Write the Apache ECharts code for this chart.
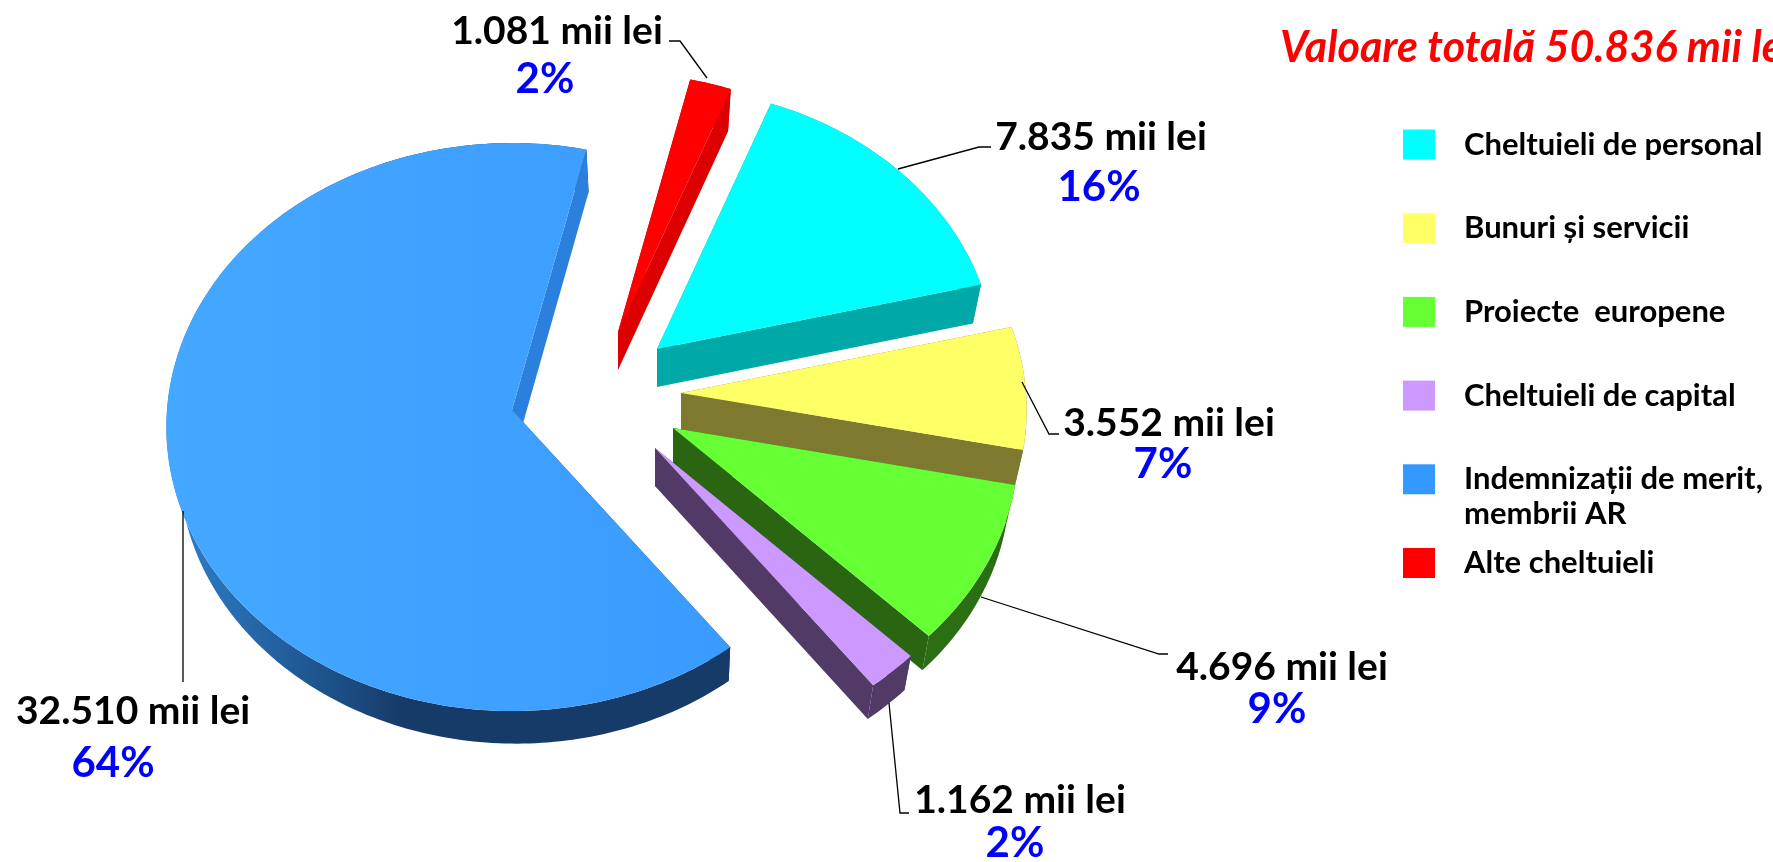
<!DOCTYPE html>
<html>
<head>
<meta charset="utf-8">
<style>
  html, body { margin: 0; padding: 0; background: #fff; overflow: hidden; }
  #chart { width: 1773px; height: 862px; }
</style>
</head>
<body>
<div id="chart"></div>
<script src="https://cdn.jsdelivr.net/npm/echarts@6/dist/echarts.min.js"></script>
<script>
// clockwise from the top, later slices paint over earlier ones
var categories = ['Alte cheltuieli', 'Cheltuieli de personal', 'Bunuri și servicii', 'Proiecte  europene', 'Cheltuieli de capital', 'Indemnizații de merit, membrii AR'];
var values = [1081, 7835, 3552, 4696, 1162, 32510];
var percents = [2, 16, 7, 9, 2, 64];
var totalLabel = 'Valoare totală 50.836 mii lei';
var legendOrder = ['Cheltuieli de personal', 'Bunuri și servicii', 'Proiecte  europene', 'Cheltuieli de capital', 'Indemnizații de merit, membrii AR', 'Alte cheltuieli'];

var topColors = ['#ff0000', '#00ffff', '#ffff66', '#66ff33', '#cc99ff', '#3d9fff'];
var sideColors = ['#dc0000', '#00a8a8', '#7d7a30', '#2a6612', '#523a66', '#2a80dc'];
var rimColors = ['#dc0000', '#00a8a8', '#7d7a30', '#2c6e14', '#523a66', null];

// projection of the tilted disc
var CX = 512, CY = 410, RX = 345, RY = 283, PERSP = 0.06, DEPTH = 38;
var START_ANGLE = 13.2;
var explode = [[106, -78], [145, -61], [169, -17], [161, 18], [143, 38], [0, 0]];
var sliceScale = [0.97, 0.98, 1, 1, 1, 1];
var underShift = [0, 0, 0, 0, 0, 4];

// connector lines and label centres for each slice
var leaders = [
  [[669, 41], [680, 41], [707, 78]],
  [[898, 169], [979, 147], [991, 147]],
  [[1022, 382], [1049, 434], [1059, 434]],
  [[981, 597], [1159, 654], [1168, 654]],
  [[889, 703], [900, 813], [909, 813]],
  [[183, 511], [183, 682]]
];
var valuePos = [[557, 31], [1101, 137], [1169, 423], [1282, 667], [1020, 800], [133, 711]];
var pctPos = [[545, 79], [1099, 187], [1163, 464], [1277, 709], [1015, 843], [113, 763]];

var FONT = 'Lato';
var total = values.reduce(function (a, b) { return a + b; }, 0);

function project(deg, ox, oy, scale) {
  var t = deg * Math.PI / 180;
  var u = Math.sin(t), v = -Math.cos(t);
  var den = 1 - PERSP * v;
  return [CX + ox + scale * RX * u / den, CY + oy + scale * RY * v / den];
}

// underside is a bit smaller than the top face
function under(p, vx, vy, dx) {
  return [vx + dx + (p[0] - vx) * 0.975, vy + DEPTH + (p[1] - vy) * 0.982];
}

function fmt(n) {
  return String(n).replace(/\B(?=(\d{3})+$)/, '.') + ' mii lei';
}

function renderSlice(params, api) {
  var i = params.seriesIndex;
  var before = 0;
  for (var k = 0; k < i; k++) before += values[k];
  var a0 = START_ANGLE + before / total * 360;
  var a1 = a0 + api.value(0) / total * 360;
  var ox = explode[i][0], oy = explode[i][1];
  var vx = CX + ox, vy = CY + oy;

  var arc = [];
  var n = Math.max(4, Math.ceil(a1 - a0));
  for (var s = 0; s <= n; s++) arc.push(project(a0 + (a1 - a0) * s / n, ox, oy, sliceScale[i]));
  var arcUnder = arc.map(function (p) { return under(p, vx, vy, underShift[i]); });
  var vUnder = [vx + underShift[i], vy + DEPTH];

  var rim = rimColors[i] || new echarts.graphic.LinearGradient(0, 0, 1, 0, [
    { offset: 0, color: '#2f80cc' },
    { offset: 0.2, color: '#22609f' },
    { offset: 0.42, color: '#163b68' },
    { offset: 1, color: '#163b68' }
  ]);
  var top = i === 5 ? new echarts.graphic.LinearGradient(0, 0, 1, 0, [
    { offset: 0, color: '#45a8ff' },
    { offset: 1, color: '#3a9bff' }
  ]) : topColors[i];

  var children = [
    { type: 'polygon', shape: { points: [[vx, vy], arc[0], arcUnder[0], vUnder] }, style: { fill: i === 5 ? '#163b68' : sideColors[i] } },
    { type: 'polygon', shape: { points: arc.concat(arcUnder.slice().reverse()) }, style: { fill: rim } },
    { type: 'polygon', shape: { points: [[vx, vy], arc[n], arcUnder[n], vUnder] }, style: { fill: sideColors[i] } },
    { type: 'polygon', shape: { points: [[vx, vy]].concat(arc) }, style: { fill: top } },
    { type: 'polyline', shape: { points: leaders[i] }, style: { stroke: '#000', lineWidth: 1.3, fill: null } },
    {
      type: 'text', x: valuePos[i][0], y: valuePos[i][1],
      style: { text: fmt(api.value(0)), x: 0, y: 0, align: 'center', verticalAlign: 'middle', font: 'bold 39px ' + FONT, fill: '#000' }
    },
    {
      type: 'text', x: pctPos[i][0], y: pctPos[i][1],
      style: { text: percents[i] + '%', x: 0, y: 0, align: 'center', verticalAlign: 'middle', font: 'bold 42px ' + FONT, fill: '#0000ff' }
    }
  ];
  return { type: 'group', children: children };
}

var series = categories.map(function (name, i) {
  return {
    name: name,
    type: 'custom',
    coordinateSystem: 'none',
    renderItem: renderSlice,
    itemStyle: { color: topColors[i] === '#3d9fff' ? '#3399ff' : topColors[i] },
    data: [values[i]]
  };
});

var option = {
  animation: false,
  backgroundColor: '#fff',
  title: {
    text: totalLabel,
    left: 1280,
    top: 27,
    padding: 0,
    textStyle: { color: '#ff0000', fontFamily: FONT, fontWeight: 'bold', fontStyle: 'italic', fontSize: 43 }
  },
  legend: {
    orient: 'vertical',
    left: 1403,
    top: 129,
    padding: 0,
    data: legendOrder,
    selectedMode: false,
    icon: 'rect',
    itemWidth: 32,
    itemHeight: 30,
    itemGap: 52.7,
    formatter: function (name) { return name.split(', ')[0] + (name.indexOf(', ') > 0 ? ',' : ''); },
    textStyle: { color: '#000', fontFamily: FONT, fontWeight: 'bold', fontSize: 31, padding: [0, 0, 0, 24] }
  },
  graphic: [
    { type: 'text', left: 1464, top: 498, style: { text: 'membrii AR', font: 'bold 31px ' + FONT, fill: '#000' } }
  ],
  series: series
};

var myChart = echarts.init(document.getElementById('chart'));
myChart.setOption(option, true);
</script>
</body>
</html>
